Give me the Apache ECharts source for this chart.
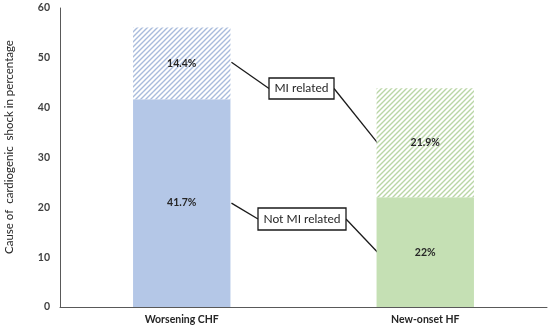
<!DOCTYPE html>
<html><head><meta charset="utf-8">
<script src="https://cdn.jsdelivr.net/npm/echarts@6/dist/echarts.min.js"></script>
<style>html,body{margin:0;padding:0;background:#fff}#c{width:550px;height:330px}</style>
</head><body><div id="c"></div>
<script>
const categories = ['Worsening CHF', 'New-onset HF'];
const notMIValues = [41.7, 22];
const miValues = [14.4, 21.9];
const yTicks = [0, 10, 20, 30, 40, 50, 60];
const annotationLabels = ['MI related', 'Not MI related'];
const yAxisTitle = 'Cause of  cardiogenic  shock in percentage';

const solidColors = ['#b4c7e7', '#c5e0b4'];
const stripeColors = ['#a9bcdc', '#b9d6a6'];

function makeHatch(color) {
  const s = 5;
  const cv = document.createElement('canvas');
  cv.width = s; cv.height = s;
  const ctx = cv.getContext('2d');
  ctx.fillStyle = '#fff';
  ctx.fillRect(0, 0, s, s);
  ctx.strokeStyle = color;
  ctx.lineWidth = 1.4;
  ctx.beginPath();
  ctx.moveTo(-1, s + 1); ctx.lineTo(s + 1, -1);
  ctx.moveTo(-1, 1); ctx.lineTo(1, -1);
  ctx.moveTo(s - 1, s + 1); ctx.lineTo(s + 1, s - 1);
  ctx.stroke();
  return cv;
}

const font = 'Lato, "Open Sans", sans-serif';
const chart = echarts.init(document.getElementById('c'), null, {renderer: 'canvas'});
const labelStyle = {show: true, formatter: '{c}%', fontWeight: 'bold', fontSize: 10.5, color: '#262626', fontFamily: font};

chart.setOption({
  animation: false,
  grid: {left: 60, right: 3, top: 8, bottom: 23},
  xAxis: {
    type: 'category', data: categories,
    axisLine: {lineStyle: {color: '#595959', width: 1}},
    axisTick: {show: false},
    axisLabel: {fontWeight: 'bold', fontSize: 10.5, color: '#262626', fontFamily: font, margin: 7}
  },
  yAxis: {
    type: 'value', min: yTicks[0], max: yTicks[yTicks.length - 1], interval: 10,
    axisLine: {show: true, lineStyle: {color: '#595959', width: 1}},
    axisTick: {show: false},
    splitLine: {show: false},
    axisLabel: {fontWeight: 'bold', fontSize: 10.5, color: '#404040', fontFamily: font, margin: 10}
  },
  series: [
    {
      name: 'Not MI related', type: 'bar', stack: 'a', barWidth: '40%',
      data: notMIValues.map((v, i) => ({value: v, itemStyle: {color: solidColors[i]}})),
      label: labelStyle
    },
    {
      name: 'MI related', type: 'bar', stack: 'a', barWidth: '40%',
      data: miValues.map((v, i) => ({value: v, itemStyle: {color: {image: makeHatch(stripeColors[i]), repeat: 'repeat'}}})),
      label: labelStyle
    }
  ]
});

const p0 = chart.convertToPixel({xAxisIndex: 0}, categories[0]);
const p1 = chart.convertToPixel({xAxisIndex: 0}, categories[1]);
const band = p1 - p0;
const halfBar = band * 0.4 / 2;
const midX = (p0 + p1) / 2;
function py(v) { return chart.convertToPixel({yAxisIndex: 0}, v); }

const miL = [p0 + halfBar + 1, py(notMIValues[0] + miValues[0] / 2) - 1];
const miR = [p1 - halfBar + 1, py(notMIValues[1] + miValues[1] / 2)];
const nmL = [p0 + halfBar + 1, py(notMIValues[0] / 2)];
const nmR = [p1 - halfBar + 1, py(notMIValues[1] / 2)];

const boxes = [
  {text: annotationLabels[0], cx: midX - 2, cy: 88.5, w: 65, h: 21, L: miL, R: miR},
  {text: annotationLabels[1], cx: midX - 1.5, cy: 219, w: 88, h: 22, L: nmL, R: nmR}
];
const graphic = [{
  type: 'text', x: 9, y: 147, rotation: Math.PI / 2,
  style: {text: yAxisTitle, fill: '#262626', font: '11.5px ' + font, align: 'center', verticalAlign: 'middle'}
}];
boxes.forEach(b => {
  const x0 = b.cx - b.w / 2, x1 = b.cx + b.w / 2;
  graphic.push({type: 'line', shape: {x1: b.L[0], y1: b.L[1], x2: x0, y2: b.cy}, style: {stroke: '#1a1a1a', lineWidth: 1.3}});
  graphic.push({type: 'line', shape: {x1: x1, y1: b.cy, x2: b.R[0], y2: b.R[1]}, style: {stroke: '#1a1a1a', lineWidth: 1.3}});
  graphic.push({type: 'rect', shape: {x: x0, y: b.cy - b.h / 2, width: b.w, height: b.h}, style: {fill: '#fff', stroke: '#1a1a1a', lineWidth: 1.3}});
  graphic.push({type: 'text', x: b.cx, y: b.cy, style: {text: b.text, fill: '#262626', font: '12px ' + font, align: 'center', verticalAlign: 'middle'}});
});
chart.setOption({graphic: graphic});
</script></body></html>
